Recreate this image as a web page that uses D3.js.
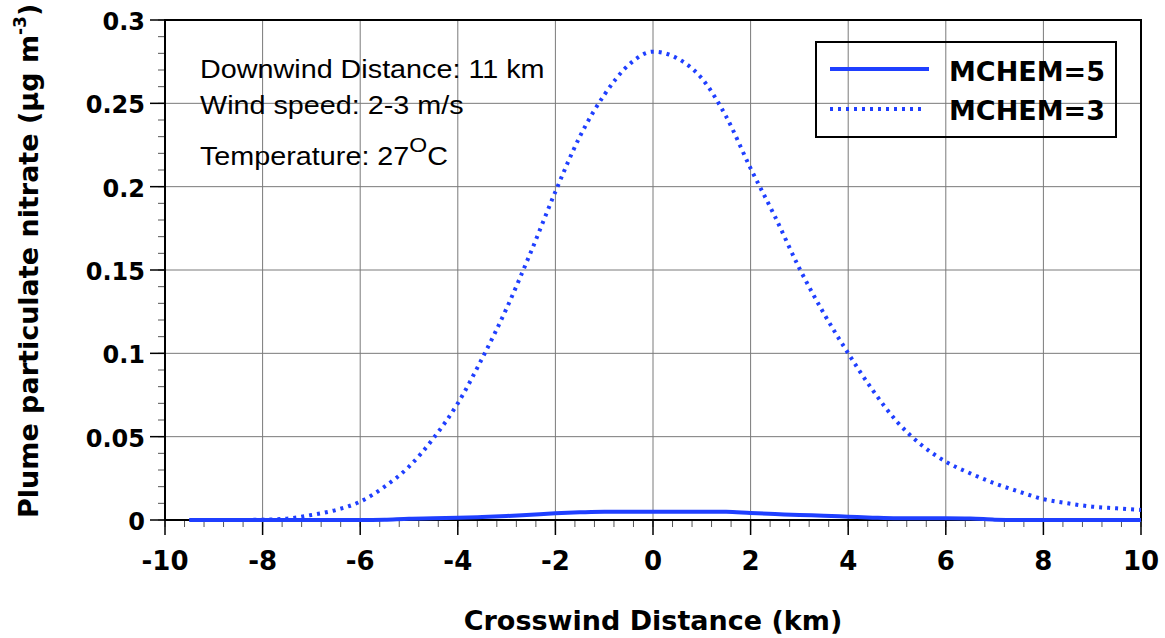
<!DOCTYPE html>
<html>
<head>
<meta charset="utf-8">
<script src="https://cdn.jsdelivr.net/npm/d3@7"></script>
<style>
  body { margin: 0; background: #fff; }
  text { fill: #000; }
</style>
</head>
<body>
<div id="chart"></div>
<script>
// Data
const crosswind = [-9.5, -9, -8.5, -8, -7.5, -7, -6.5, -6, -5.5, -5, -4.5, -4, -3.5, -3, -2.5, -2, -1.5, -1, -0.5, 0,
                   0.5, 1, 1.5, 2, 2.5, 3, 3.5, 4, 4.5, 5, 5.5, 6, 6.5, 7, 7.5, 8, 8.5, 9, 9.5, 10];
const mchem5 = [0, 0, 0, 0, 0, 0, 0, 0, 0.0002, 0.0008, 0.001, 0.0013, 0.0018, 0.0024, 0.0032, 0.004, 0.0046, 0.005, 0.005, 0.005,
                0.005, 0.005, 0.005, 0.0042, 0.0036, 0.003, 0.0026, 0.002, 0.0014, 0.001, 0.001, 0.001, 0.0009, 0.0002, 0, 0, 0, 0, 0, 0];
const mchem3 = [0, 0, 0, 0.0002, 0.0008, 0.003, 0.006, 0.011, 0.020, 0.032, 0.049, 0.070, 0.097, 0.127, 0.161, 0.197, 0.230, 0.255, 0.273, 0.281,
                0.277, 0.265, 0.242, 0.211, 0.182, 0.151, 0.124, 0.100, 0.078, 0.059, 0.045, 0.035, 0.028, 0.022, 0.017, 0.0125, 0.010, 0.008, 0.007, 0.006];
const xTicks = [-10, -8, -6, -4, -2, 0, 2, 4, 6, 8, 10];
const yTicks = [0, 0.05, 0.1, 0.15, 0.2, 0.25, 0.3];
const yTickLabels = ["0", "0.05", "0.1", "0.15", "0.2", "0.25", "0.3"];
const seriesNames = ["MCHEM=5", "MCHEM=3"];
const notes = ["Downwind Distance: 11 km", "Wind speed: 2-3 m/s"];

// Set up SVG
const W = 1165, H = 638;
const margin = {top: 20, right: 24, bottom: 118, left: 165};
const width = W - margin.left - margin.right;
const height = H - margin.top - margin.bottom;
const blue = "#1f3fff";
const heavy = "'DejaVu Sans', sans-serif";
const plain = "'Liberation Sans', Arial, sans-serif";

const svg = d3.select("#chart").append("svg")
  .attr("width", W)
  .attr("height", H);

const g = svg.append("g")
  .attr("transform", `translate(${margin.left},${margin.top})`);

const x = d3.scaleLinear().domain([-10, 10]).range([0, width]);
const y = d3.scaleLinear().domain([0, 0.3]).range([height, 0]);

function label(parent, px, py, str, size, font, anchor, sx) {
  return parent.append("text")
    .attr("transform", `translate(${px},${py}) scale(${sx || 1},1)`)
    .attr("text-anchor", anchor || "start")
    .style("font-family", font)
    .style("font-size", size + "px")
    .style("font-weight", font === heavy ? "bold" : "normal")
    .text(str);
}

// Grid
g.append("g").selectAll("line")
  .data(xTicks.slice(1, -1))
  .enter().append("line")
  .attr("x1", d => x(d)).attr("x2", d => x(d))
  .attr("y1", 0).attr("y2", height)
  .attr("stroke", "#7a7a7a").attr("stroke-width", 1);

g.append("g").selectAll("line")
  .data(yTicks.slice(1, -1))
  .enter().append("line")
  .attr("x1", 0).attr("x2", width)
  .attr("y1", d => y(d)).attr("y2", d => y(d))
  .attr("stroke", "#7a7a7a").attr("stroke-width", 1);

// Minor ticks
g.append("g").selectAll("line")
  .data(d3.range(0, 0.3001, 0.01))
  .enter().append("line")
  .attr("x1", -7).attr("x2", 0)
  .attr("y1", d => y(d)).attr("y2", d => y(d))
  .attr("stroke", "#555").attr("stroke-width", 1);

g.append("g").selectAll("line")
  .data(d3.range(-10, 10.001, 0.4))
  .enter().append("line")
  .attr("x1", d => x(d)).attr("x2", d => x(d))
  .attr("y1", height).attr("y2", height + 7)
  .attr("stroke", "#555").attr("stroke-width", 1);

// Major ticks
g.append("g").selectAll("line")
  .data(yTicks)
  .enter().append("line")
  .attr("x1", -15).attr("x2", 0)
  .attr("y1", d => y(d)).attr("y2", d => y(d))
  .attr("stroke", "#000").attr("stroke-width", 1.5);

g.append("g").selectAll("line")
  .data(xTicks)
  .enter().append("line")
  .attr("x1", d => x(d)).attr("x2", d => x(d))
  .attr("y1", height).attr("y2", height + 15)
  .attr("stroke", "#000").attr("stroke-width", 1.5);

// Frame
g.append("rect")
  .attr("x", 0).attr("y", 0)
  .attr("width", width).attr("height", height)
  .attr("fill", "none")
  .attr("stroke", "#000").attr("stroke-width", 2);

// Tick labels
yTicks.forEach((d, i) => label(g, -20, y(d) + 10, yTickLabels[i], 24, heavy, "end"));
xTicks.forEach(d => label(g, x(d), height + 50, String(d), 26, heavy, "middle"));

// Lines
const line = d3.line()
  .x((d, i) => x(crosswind[i]))
  .y(d => y(d))
  .curve(d3.curveMonotoneX);

g.append("path")
  .datum(mchem3)
  .attr("d", line)
  .attr("fill", "none")
  .attr("stroke", blue)
  .attr("stroke-width", 4)
  .attr("stroke-dasharray", "3,5");

g.append("path")
  .datum(mchem5)
  .attr("d", line)
  .attr("fill", "none")
  .attr("stroke", blue)
  .attr("stroke-width", 4);

// Notes
label(g, 35, 58, notes[0], 25, plain, "start", 1.15);
label(g, 35, 94, notes[1], 25, plain, "start", 1.15);
const t = label(g, 35, 145, "Temperature: 27", 25, plain, "start", 1.15);
t.append("tspan").attr("dy", -13).style("font-size", "20px").text("O");
t.append("tspan").attr("dy", 13).text("C");

// Legend
const legend = g.append("g").attr("transform", `translate(${width - 325}, 22)`);
legend.append("rect")
  .attr("x", 0).attr("y", 0)
  .attr("width", 300).attr("height", 95)
  .attr("fill", "none")
  .attr("stroke", "#000").attr("stroke-width", 2);
legend.append("line")
  .attr("x1", 14).attr("x2", 113).attr("y1", 27).attr("y2", 27)
  .attr("stroke", blue).attr("stroke-width", 4);
legend.append("line")
  .attr("x1", 14).attr("x2", 108).attr("y1", 67).attr("y2", 67)
  .attr("stroke", blue).attr("stroke-width", 4)
  .attr("stroke-dasharray", "3,5");
label(legend, 133, 39, seriesNames[0], 27, heavy);
label(legend, 133, 78, seriesNames[1], 27, heavy);

// Axis titles
label(g, width / 2, height + 110, "Crosswind Distance (km)", 27, heavy, "middle");

const yt = svg.append("text")
  .attr("transform", "translate(38,518) rotate(-90)")
  .style("font-family", heavy)
  .style("font-size", "27px")
  .style("font-weight", "bold")
  .text("Plume particulate nitrate (\u00b5g m");
yt.append("tspan").attr("dy", -12).style("font-size", "17px").text("-3");
yt.append("tspan").attr("dy", 12).text(")");
</script>
</body>
</html>
